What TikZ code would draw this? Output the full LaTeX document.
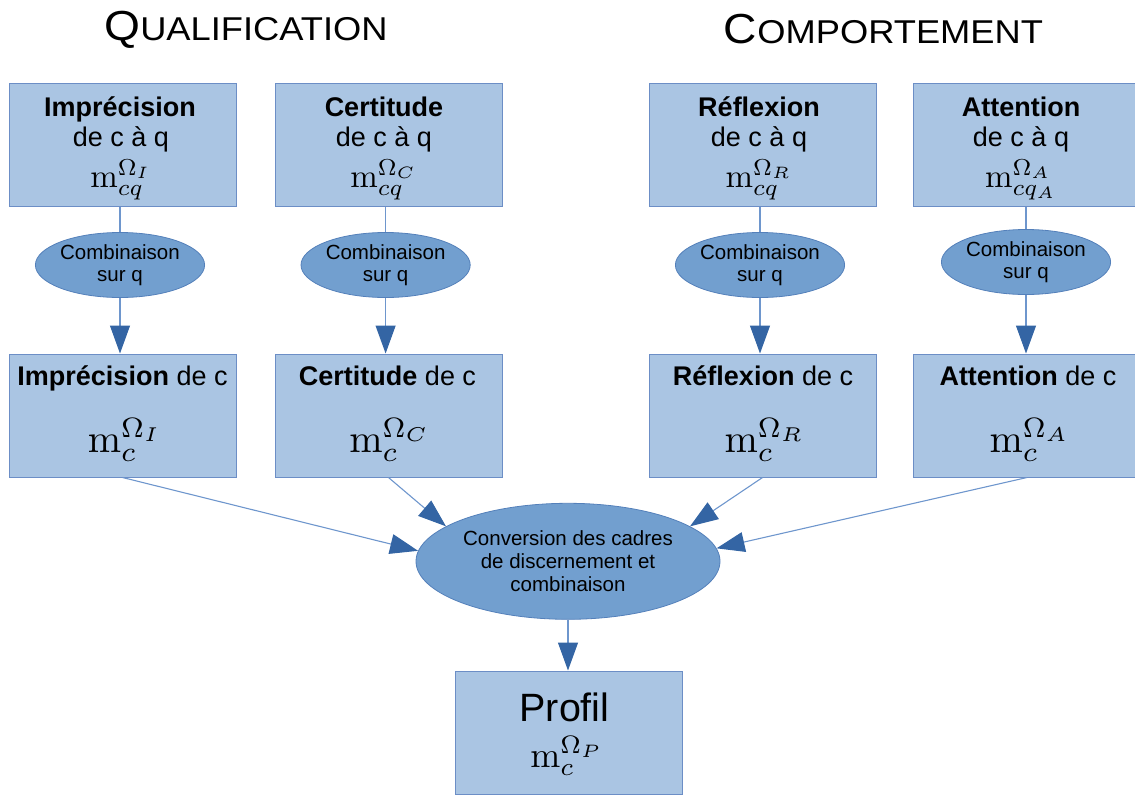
\documentclass[tikz,border=0pt]{standalone}
\usepackage[no-math]{fontspec}
\setmainfont{Liberation Sans}
\usepackage{graphicx}
\usetikzlibrary{shapes.geometric,arrows.meta,calc}
\definecolor{boxfill}{RGB}{170,197,227}
\definecolor{boxline}{RGB}{108,142,198}
\definecolor{ellfill}{RGB}{114,159,207}
\definecolor{ellline}{RGB}{84,128,186}
\definecolor{linec}{RGB}{110,150,205}
\definecolor{headc}{RGB}{52,101,164}
\newcommand{\mbig}[2]{\scalebox{#1}{$#2$}}
\tikzset{
  box/.style={draw=boxline, fill=boxfill, line width=1pt, minimum width=227pt, minimum height=123pt, inner sep=0pt},
  comb/.style={ellipse, draw=ellline, fill=ellfill, line width=0.8pt, minimum width=169pt, minimum height=65pt, inner sep=0pt, align=center, font=\fontsize{20.5}{22.6}\selectfont},
  conn/.style={draw=linec, line width=1.1pt},
  arr/.style={conn, -{Triangle[length=28pt,width=20pt,color=headc]}},
  lbl/.style={anchor=base, inner sep=0pt, font=\fontsize{27}{30}\selectfont},
  mlbl/.style={anchor=base, inner sep=0pt, font=\fontsize{27}{30}\selectfont},
  mathlbl/.style={anchor=base, inner sep=0pt},
}
\begin{document}
\begin{tikzpicture}[x=1pt,y=-1pt]
\useasboundingbox (0,0) rectangle (1135,795);
% titles
\node[anchor=base, inner sep=0pt] (T1) at (246,40) {\scalebox{1.1}[1]{{\fontsize{42}{42}\selectfont Q}{\fontsize{33}{42}\selectfont UALIFICATION}}};
\node[anchor=base, inner sep=0pt] (T2) at (883.5,43) {\scalebox{1.1}[1]{{\fontsize{42}{42}\selectfont C}{\fontsize{33}{42}\selectfont OMPORTEMENT}}};
% top boxes
\node[box] (B1) at (122.5,144.5) {};
\node[box] (B2) at (388.5,144.5) {};
\node[box] (B3) at (762.5,144.5) {};
\node[box] (B4) at (1027,144.5) {};
\node[lbl] (B1a) at (120,116) {\bfseries Imprécision};
\node[lbl] (B1b) at (121,146.5) {de c à q};
\node[mathlbl] (B1c) at (121,187) {\mbig{3.3}{\mathrm{m}^{\Omega_I}_{cq}}};
\node[lbl] (B2a) at (384,116) {\bfseries Certitude};
\node[lbl] (B2b) at (384,146.5) {de c à q};
\node[mathlbl] (B2c) at (384,187) {\mbig{3.3}{\mathrm{m}^{\Omega_C}_{cq}}};
\node[lbl] (B3a) at (759,116) {\bfseries Réflexion};
\node[lbl] (B3b) at (759,146.5) {de c à q};
\node[mathlbl] (B3c) at (759,187) {\mbig{3.3}{\mathrm{m}^{\Omega_R}_{cq}}};
\node[lbl] (B4a) at (1021,116) {\bfseries Attention};
\node[lbl] (B4b) at (1021,146.5) {de c à q};
\node[mathlbl] (B4c) at (1021,187) {\mbig{3.3}{\mathrm{m}^{\Omega_A}_{cq_A}}};
% combination ellipses
\node[comb] (E1) at (120,265) {Combinaison\\sur q};
\node[comb] (E2) at (385.6,265) {Combinaison\\sur q};
\node[comb] (E3) at (760,265) {Combinaison\\sur q};
\node[comb] (E4) at (1026,262) {Combinaison\\sur q};
% middle boxes
\node[box] (M1) at (122.5,415.5) {};
\node[box] (M2) at (388.5,415.5) {};
\node[box] (M3) at (762.5,415.5) {};
\node[box] (M4) at (1027,415.5) {};
\node[mlbl] (M1a) at (122.5,385) {{\bfseries Imprécision} de c};
\node[mathlbl] (M1b) at (125,452) {\mbig{4}{\mathrm{m}^{\Omega_I}_{c}}};
\node[mlbl] (M2a) at (387.5,385) {{\bfseries Certitude} de c};
\node[mathlbl] (M2b) at (390,452) {\mbig{4}{\mathrm{m}^{\Omega_C}_{c}}};
\node[mlbl] (M3a) at (763,385) {{\bfseries Réflexion} de c};
\node[mathlbl] (M3b) at (765,452) {\mbig{4}{\mathrm{m}^{\Omega_R}_{c}}};
\node[mlbl] (M4a) at (1028,385) {{\bfseries Attention} de c};
\node[mathlbl] (M4b) at (1030,452) {\mbig{4}{\mathrm{m}^{\Omega_A}_{c}}};
% conversion ellipse
\node[ellipse, draw=ellline, fill=ellfill, line width=0.8pt, minimum width=304pt, minimum height=116pt, inner sep=0pt, align=center, font=\fontsize{20.5}{23.3}\selectfont] (C) at (568,561.3) {Conversion des cadres\\de discernement et\\combinaison};
% profil box
\node[box] (P) at (568.5,732.5) {};
\node[anchor=base, inner sep=0pt, font=\fontsize{39.5}{40}\selectfont] (Pa) at (564.5,721) {Profil};
\node[mathlbl] (Pb) at (567,767) {\mbig{3.6}{\mathrm{m}^{\Omega_P}_{c}}};
% connectors
\foreach \i in {1,2,3,4} {
  \draw[conn] (E\i.north |- B\i.south) -- (E\i.north);
  \draw[arr] (E\i.south) -- (E\i.south |- M\i.north);
}
\draw[arr] (M1.south) -- (C.176);
\draw[arr] (M2.south) -- (C.164);
\draw[arr] (M3.south) -- (C.16);
\draw[arr] (M4.south) -- (C.5);
\draw[arr] (C.south) -- (C.south |- P.north);
\end{tikzpicture}
\end{document}
